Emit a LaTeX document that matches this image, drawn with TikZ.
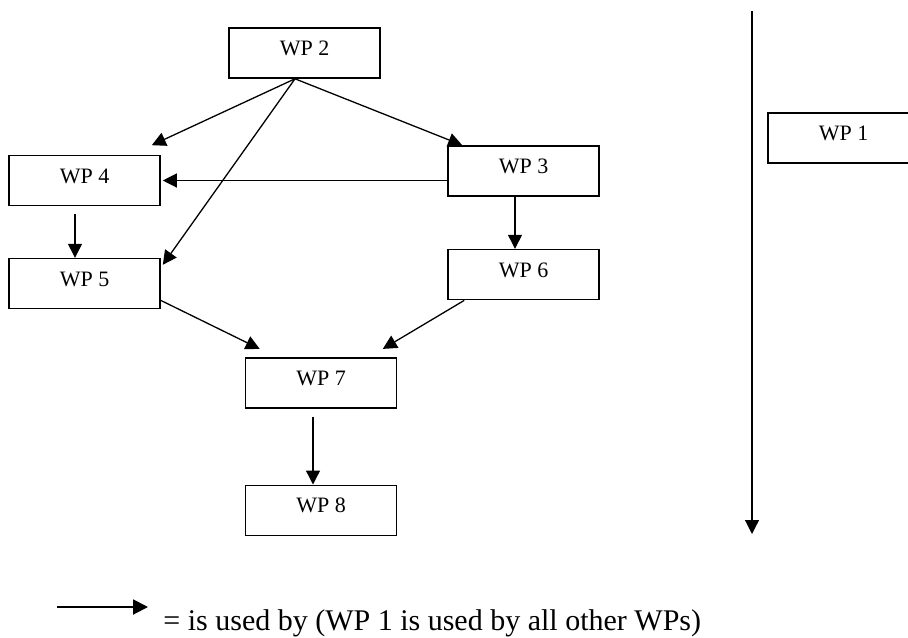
\documentclass[tikz,border=0pt]{standalone}
\usepackage{fontspec}
\setmainfont{Liberation Serif}
\usetikzlibrary{positioning,arrows.meta,calc}

\begin{document}
\begin{tikzpicture}[x=0.5pt,y=-0.5pt,
  node distance=26pt,
  wpbox/.style={draw,line width=0.8pt,minimum width=75.5pt,minimum height=25pt,
                inner sep=0pt,text height=7.5pt,text depth=5pt,
                font=\fontsize{11}{13}\selectfont},
  arr/.style={-{Triangle[length=7pt,width=7pt]},line width=0.65pt},
  keyarr/.style={-{Triangle[length=7.5pt,width=7.5pt]},line width=1pt}]
\clip (0,0) rectangle (908,637);
% work packages
\node[wpbox] (wp2) at (304.5,53) {WP 2};
\node[wpbox] (wp4) at (84.5,180.5) {WP 4};
\node[wpbox] (wp3) at (523.5,171) {WP 3};
\node[wpbox,below=25.75pt of wp4] (wp5) {WP 5};
\node[wpbox,below=of wp3] (wp6) {WP 6};
\node[wpbox] (wp7) at (321,382.7) {WP 7};
\node[wpbox,below=38pt of wp7] (wp8) {WP 8};
\node[wpbox] (wp1) at (843.5,138) {WP 1};
% dependencies
\draw[arr] ([shift={(-9.5,0)}]wp2.south) -- ([shift={(-9,-9.5)}]wp4.north east);
\draw[arr] ([shift={(-9.5,0)}]wp2.south) -- ([shift={(15,0)}]wp3.north west);
\draw[arr] ([shift={(-9.5,0)}]wp2.south) -- ([shift={(2,7)}]wp5.north east);
\draw[arr] (wp3.west |- wp4.east) -- ([shift={(2,0)}]wp4.east);
\draw[arr] ([shift={(-9.5,8)}]wp4.south) -- ([shift={(-9.5,0)}]wp5.north);
\draw[arr] ([shift={(-8.5,0)}]wp3.south) -- ([shift={(-8.5,0)}]wp6.north);
\draw[arr] ([shift={(0,-9)}]wp5.south east) -- ([shift={(15,-8)}]wp7.north west);
\draw[arr] ([shift={(17,0)}]wp6.south west) -- ([shift={(-14.5,-8)}]wp7.north east);
\draw[arr] ([shift={(-8,8)}]wp7.south) -- ([shift={(-8,0)}]wp8.north);
% WP 1 line
\coordinate (alltop) at (752,11);
\coordinate (allbot) at (752,534);
\draw[arr,line width=0.6pt] (alltop) -- (allbot);
% key
\coordinate (keyA) at (57,607);
\coordinate (keyB) at (148,607);
\draw[keyarr] (keyA) -- (keyB);
\node[anchor=base west,inner sep=0pt,font=\fontsize{15}{18}\selectfont] (keytxt) at (163,630)
  {= is used by (WP 1 is used by all other WPs)};
\end{tikzpicture}
\end{document}
